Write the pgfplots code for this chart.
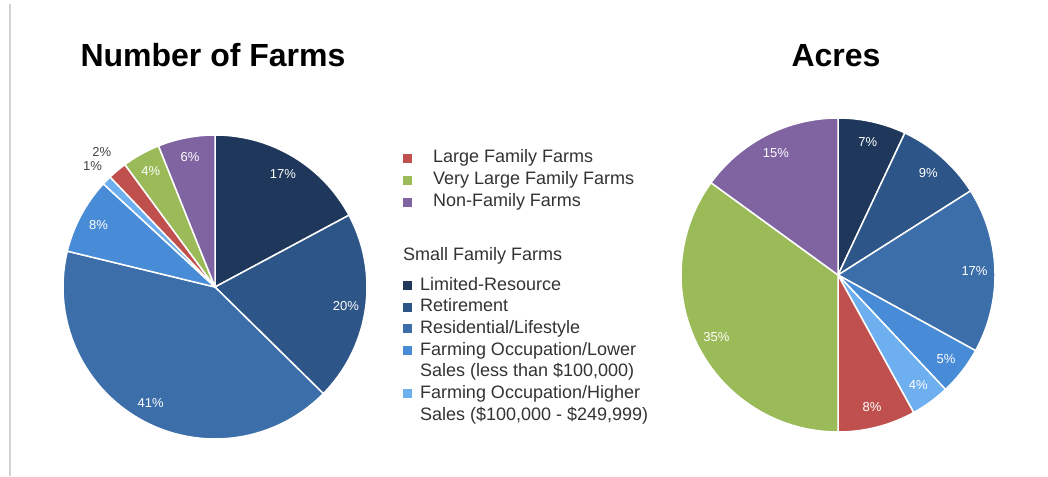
\documentclass[border=0pt]{standalone}
\usepackage{pgfplots}
\pgfplotsset{compat=1.18}
\usepackage{fontspec}
\setmainfont{Liberation Sans}

\definecolor{cLim}{HTML}{1E375A}
\definecolor{cRet}{HTML}{2D5587}
\definecolor{cRes}{HTML}{3C6EAA}
\definecolor{cLow}{HTML}{488CD7}
\definecolor{cHigh}{HTML}{6EAFF0}
\definecolor{cLarge}{HTML}{C0504D}
\definecolor{cVL}{HTML}{9BBB59}
\definecolor{cNF}{HTML}{8064A2}
\definecolor{cLab}{HTML}{444444}

\newcommand{\pielabelfont}{\fontsize{13}{15}\selectfont}
\def\piestart{90}
\def\piescale{3.6}
% #1 percent, #2 colour, #3 label, #4 label radius, #5 label colour
\newcommand{\slice}[5]{%
  \pgfmathsetmacro\sA{\piestart}%
  \pgfmathsetmacro\sB{\piestart-#1*\piescale}%
  \pgfmathsetmacro\sM{(\sA+\sB)/2}%
  \pgfmathsetmacro\lx{#4*cos(\sM)}%
  \pgfmathsetmacro\ly{#4*sin(\sM)}%
  \edef\tmp{\noexpand\addplot[fill=#2, draw=white, line width=1.5pt, line join=round, domain=\sB:\sA, samples=60] ({cos(x)},{sin(x)}) -- (0,0) -- cycle;%
    \noexpand\node[text=#5, font=\noexpand\pielabelfont] at (axis cs:\lx,\ly) {\unexpanded{#3}};}%
  \tmp
  \xdef\piestart{\sB}%
}
\pgfplotsset{
  pieaxis/.style={hide axis, scale only axis, anchor=center, xmin=-1, xmax=1, ymin=-1, ymax=1, clip=false},
  legsq/.style={only marks, mark=square*, mark size=4pt, mark options={draw=none},
    legend image code/.code={\draw[##1] plot coordinates {(4pt,0pt)};}},
  legaxis/.style={hide axis, scale only axis, at={(0pt,0pt)}, anchor=south west, width=1048pt, height=476pt,
    xmin=0, xmax=1048, ymin=0, ymax=476,
    legend cell align=left,
    legend style={draw=none, fill=none, inner sep=0pt, outer sep=0pt,
      font=\fontsize{18}{22}\selectfont, text=black!80,
      nodes={inner sep=0pt, outer sep=0pt, text height=15pt, text depth=5pt}}},
}

\begin{document}
\begin{tikzpicture}
\useasboundingbox (0pt,0pt) rectangle (1048pt,476pt);
\fill[white] (0pt,0pt) rectangle (1048pt,476pt);
\draw[black!18, line width=1.2pt] (10pt,0pt) -- (10pt,472pt);

% Titles
\node[anchor=base, font=\bfseries\fontsize{32}{36}\selectfont] at (213pt,409pt) {Number of Farms};
\node[anchor=base, font=\bfseries\fontsize{32}{36}\selectfont] at (836pt,409pt) {Acres};

% Left pie: Number of Farms (percent of farms; printed labels sum to 99)
\begin{axis}[pieaxis, at={(215pt,189pt)}, width=304pt, height=304pt]
\gdef\piestart{90}\gdef\piescale{3.63636}
\slice{17}{cLim}{17\%}{0.87}{white}
\slice{20}{cRet}{20\%}{0.87}{white}
\slice{41}{cRes}{41\%}{0.87}{white}
\slice{8}{cLow}{8\%}{0.87}{white}
\slice{1}{cHigh}{1\%}{1.13}{cLab}
\slice{2}{cLarge}{2\%}{1.16}{cLab}
\slice{4}{cVL}{4\%}{0.87}{white}
\slice{6}{cNF}{6\%}{0.87}{white}
\end{axis}

% Right pie: Acres
\begin{axis}[pieaxis, at={(838pt,201pt)}, width=314pt, height=314pt]
\gdef\piestart{90}\gdef\piescale{3.6}
\slice{7}{cLim}{7\%}{0.87}{white}
\slice{9}{cRet}{9\%}{0.87}{white}
\slice{17}{cRes}{17\%}{0.87}{white}
\slice{5}{cLow}{5\%}{0.87}{white}
\slice{4}{cHigh}{4\%}{0.87}{white}
\slice{8}{cLarge}{8\%}{0.87}{white}
\slice{35}{cVL}{35\%}{0.87}{white}
\slice{15}{cNF}{15\%}{0.87}{white}
\end{axis}

% Legend, first group
\begin{axis}[legaxis, legend style={at={({403/1048},{328/476})}, anchor=north west, row sep=2pt}]
\addlegendimage{legsq, color=cLarge}
\addlegendentry{\hspace{22pt}Large Family Farms}
\addlegendimage{legsq, color=cVL}
\addlegendentry{\hspace{22pt}Very Large Family Farms}
\addlegendimage{legsq, color=cNF}
\addlegendentry{\hspace{22pt}Non-Family Farms}
\end{axis}

\node[anchor=base west, inner sep=0pt, font=\fontsize{18}{22}\selectfont, text=black!80] at (403pt,215pt) {Small Family Farms};

% Legend, second group
\begin{axis}[legaxis, legend style={at={({403/1048},{201/476})}, anchor=north west, row sep=1.7pt}]
\addlegendimage{legsq, color=cLim}
\addlegendentry{\hspace{9pt}Limited-Resource}
\addlegendimage{legsq, color=cRet}
\addlegendentry{\hspace{9pt}Retirement}
\addlegendimage{legsq, color=cRes}
\addlegendentry{\hspace{9pt}Residential/Lifestyle}
\addlegendimage{legsq, color=cLow}
\addlegendentry{\hspace{9pt}Farming Occupation/Lower}
\addlegendimage{empty legend}
\addlegendentry{\hspace{9pt}Sales (less than \$100,000)}
\addlegendimage{legsq, color=cHigh}
\addlegendentry{\hspace{9pt}Farming Occupation/Higher}
\addlegendimage{empty legend}
\addlegendentry{\hspace{9pt}Sales (\$100,000 - \$249,999)}
\end{axis}
\end{tikzpicture}
\end{document}
